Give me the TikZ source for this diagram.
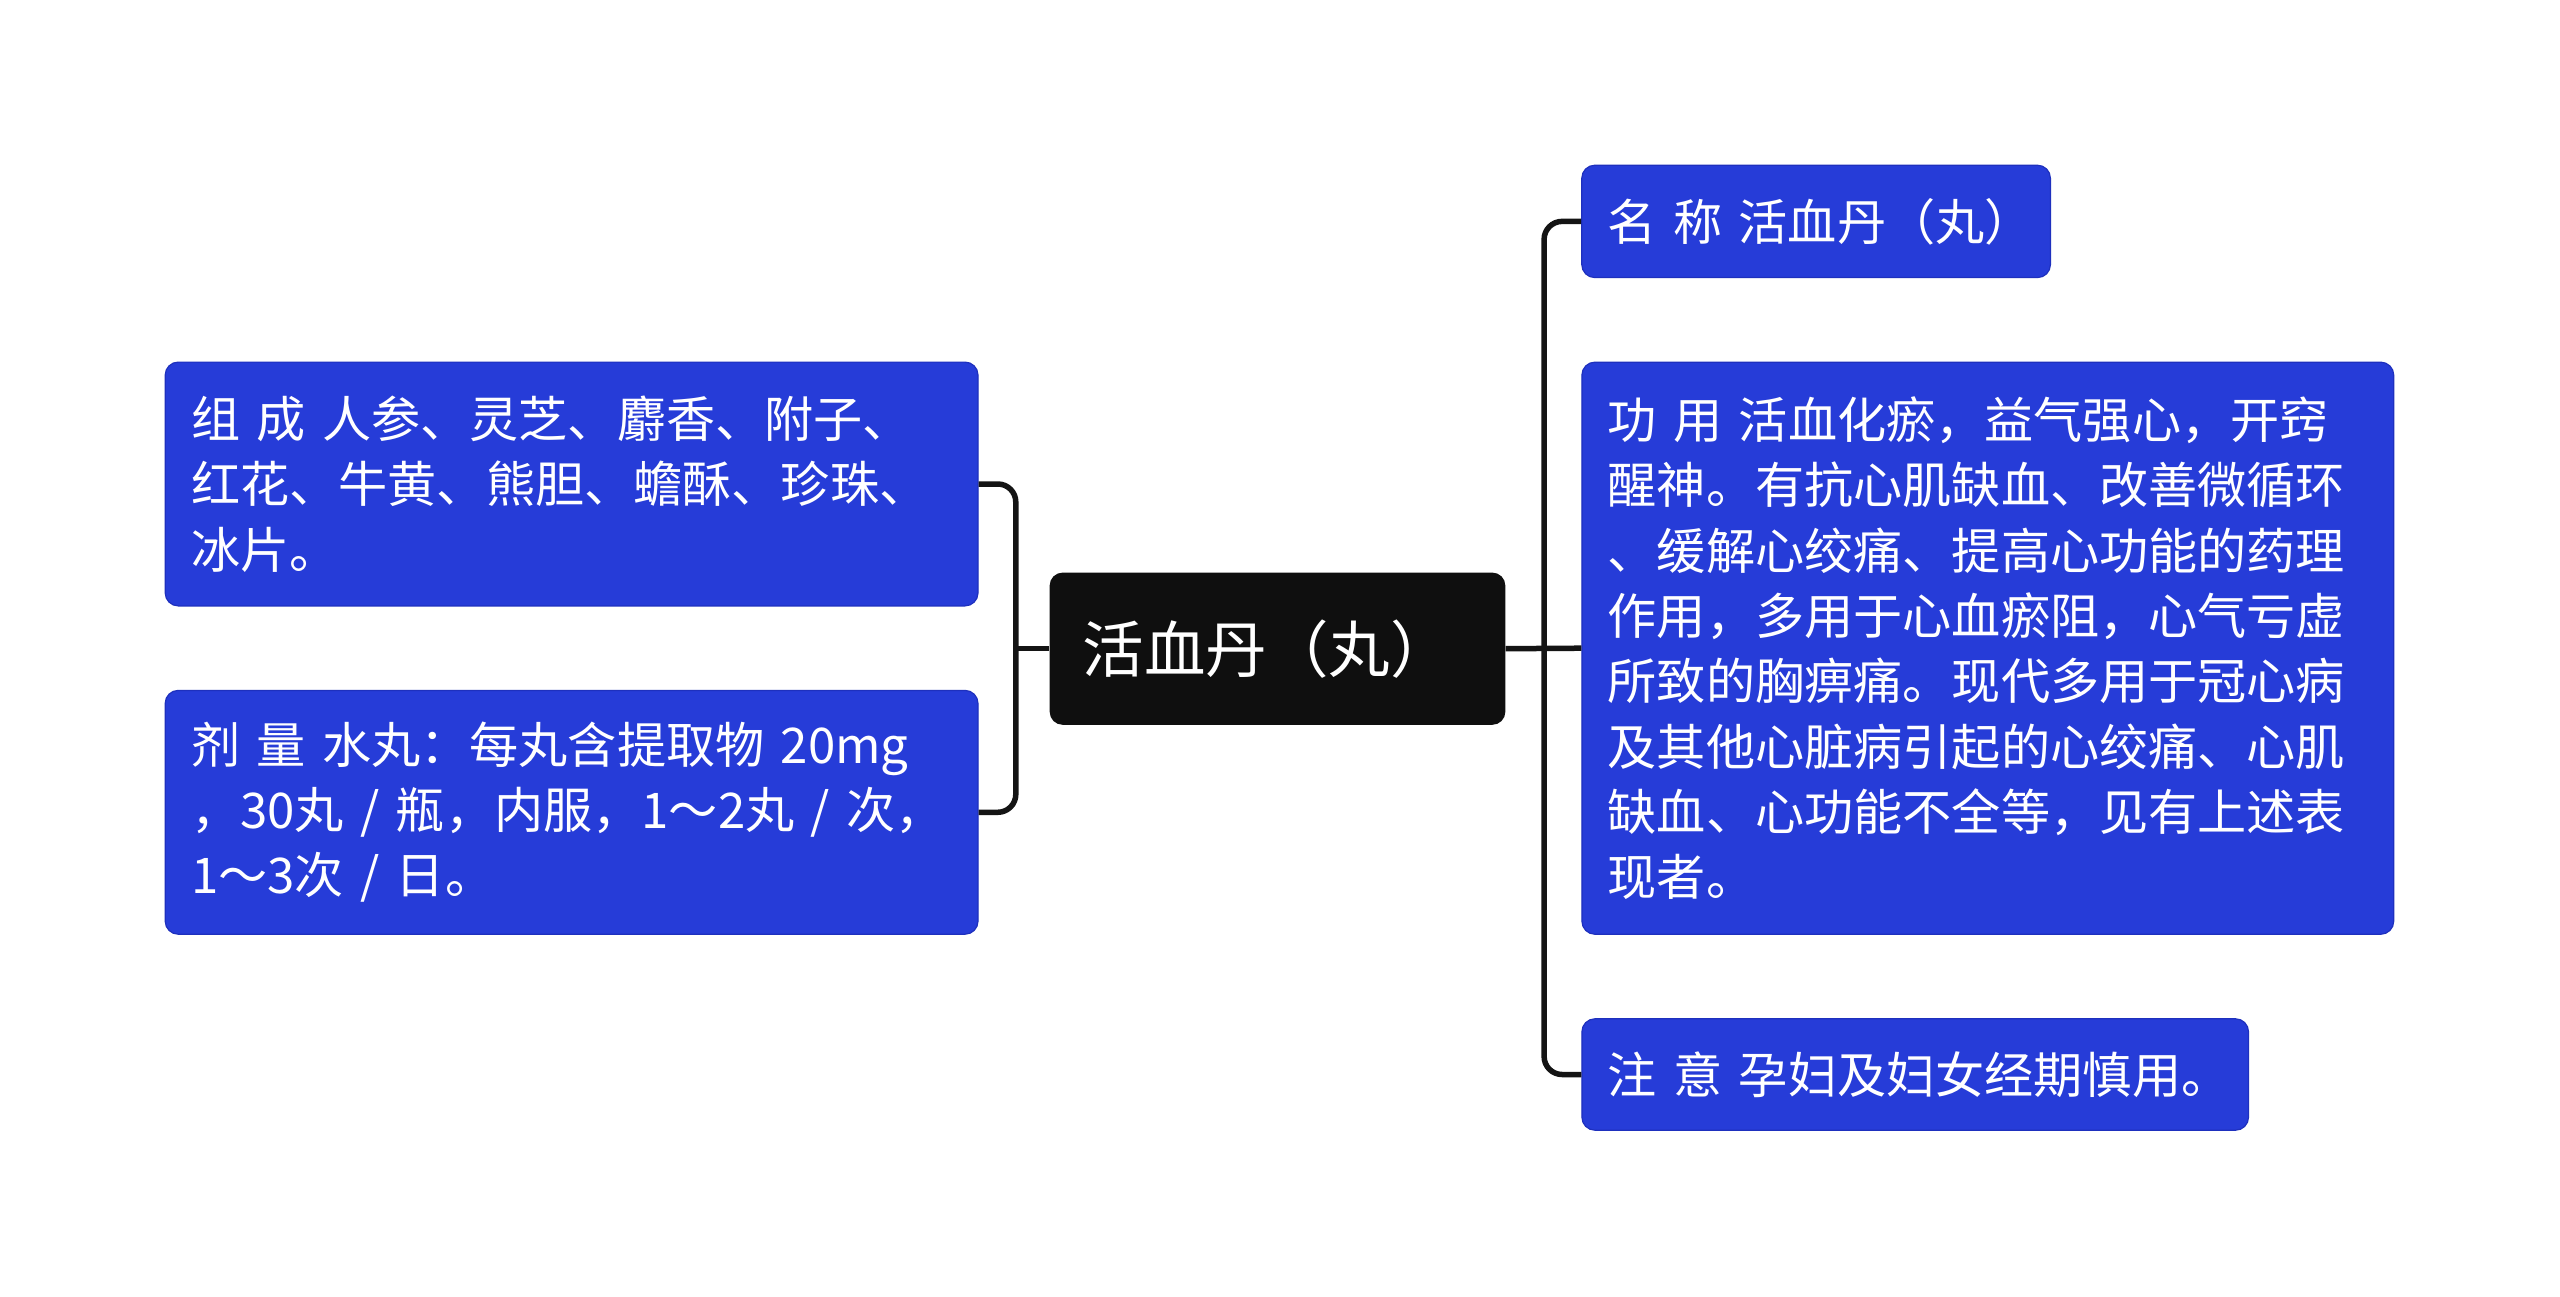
\documentclass[tikz,border=0pt]{standalone}
\usepackage{fontspec}
\setmainfont{Noto Sans CJK SC}
\definecolor{boxblue}{RGB}{38,60,216}
\definecolor{boxedge}{RGB}{30,48,190}
\definecolor{rootblack}{RGB}{15,15,15}
\begin{document}
\begin{tikzpicture}[x=1pt,y=-1pt,
  leaf/.style={draw=boxedge, line width=1.2pt, fill=boxblue, rounded corners=13pt, text=white,
    align=left, inner xsep=25.9pt, inner ysep=0pt, anchor=center,
    font=\fontsize{49.15}{65.3}\selectfont},
  rootbox/.style={fill=rootblack, rounded corners=13pt, text=white, align=left,
    inner xsep=32.8pt, inner ysep=0pt, anchor=center,
    font=\fontsize{61.5}{80}\selectfont},
  conn/.style={draw=black!92, line width=5.5pt, rounded corners=18pt}]
\useasboundingbox (0,0) rectangle (2560,1297);
\fill[white] (0,0) rectangle (2560,1297);

\node[rootbox, minimum width=455.7pt, minimum height=152.2pt, text width=390pt] (root) at (1277.5,648.7) {\mbox{活血丹（丸）}};

\node[leaf, minimum width=812.8pt, minimum height=243.8pt, text width=761pt] (comp) at (571.6,484.0)
  {组 成 人参、灵芝、麝香、附子、\\红花、牛黄、熊胆、蟾酥、珍珠、\\冰片。};
\node[leaf, minimum width=812.8pt, minimum height=243.8pt, text width=761pt] (dose) at (571.6,812.3)
  {剂 量 水丸：每丸含提取物 20mg\\，30丸 / 瓶，内服，1～2丸 / 次，\\1～3次 / 日。};

\node[leaf, minimum width=468.6pt, minimum height=112.4pt, text width=416.8pt] (name) at (1816.1,221.4)
  {\mbox{名 称 活血丹（丸）}};
\node[leaf, minimum width=811.8pt, minimum height=572.1pt, text width=760pt] (func) at (1987.8,648.2)
  {功 用 活血化瘀，益气强心，开窍\\醒神。有抗心肌缺血、改善微循环\\、缓解心绞痛、提高心功能的药理\\作用，多用于心血瘀阻，心气亏虚\\所致的胸痹痛。现代多用于冠心病\\及其他心脏病引起的心绞痛、心肌\\缺血、心功能不全等，见有上述表\\现者。};
\node[leaf, minimum width=666.6pt, minimum height=111.4pt, text width=614.8pt] (note) at (1915.2,1074.5)
  {\mbox{注 意 孕妇及妇女经期慎用。}};

\coordinate (rj) at (1544.1,648.7);
\coordinate (lj) at (1015.8,648.7);

\draw[conn] (root.east) -- (func.west);
\draw[conn] (name.west) -| (rj) |- (note.west);
\draw[conn] (root.west) -- (lj);
\draw[conn] (comp.east) -| (lj) |- (dose.east);
\end{tikzpicture}
\end{document}
